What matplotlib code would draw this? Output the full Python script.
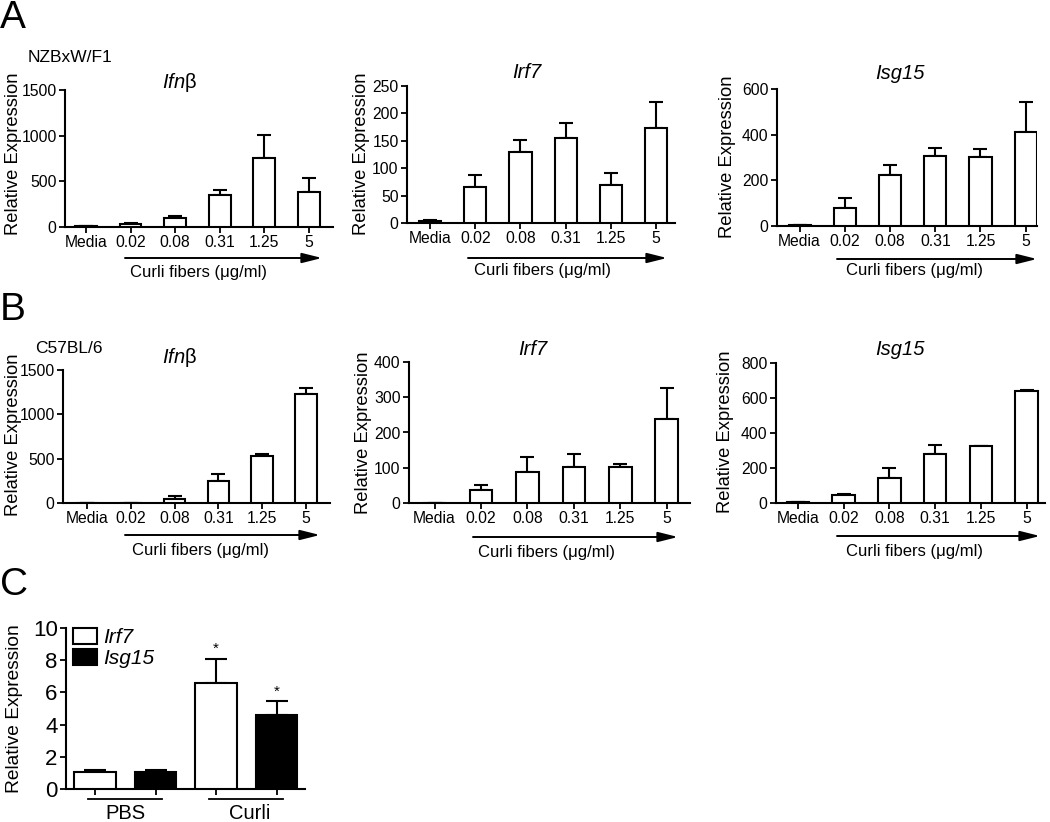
import matplotlib
matplotlib.use("Agg")
import matplotlib.pyplot as plt
from matplotlib.patches import FancyArrowPatch, Patch
import matplotlib.transforms as mtransforms

plt.rcParams["font.family"] = ["Liberation Sans", "DejaVu Sans"]
plt.rcParams["mathtext.fontset"] = "custom"
plt.rcParams["mathtext.rm"] = "Liberation Sans"
plt.rcParams["mathtext.it"] = "Liberation Sans:italic"

# ---------------- data ----------------
doses = ["Media", "0.02", "0.08", "0.31", "1.25", "5"]

a_ifnb = [10, 30, 100, 350, 755, 380]
a_ifnb_err = [5, 15, 25, 50, 255, 155]
a_irf7 = [3, 66, 130, 155, 69, 174]
a_irf7_err = [2, 21, 21, 28, 23, 46]
a_isg15 = [4, 79, 222, 308, 301, 412]
a_isg15_err = [2, 44, 47, 34, 36, 130]

b_ifnb = [0, 0, 45, 251, 532, 1234]
b_ifnb_err = [0, 0, 30, 79, 23, 64]
b_irf7 = [0, 36, 88, 103, 103, 238]
b_irf7_err = [0, 15, 42, 36, 7, 87]
b_isg15 = [4, 46, 143, 280, 324, 638]
b_isg15_err = [0, 7, 57, 53, 0, 10]

c_groups = ["PBS", "Curli"]
c_irf7 = [1.03, 6.6]
c_irf7_err = [0.17, 1.5]
c_isg15 = [1.03, 4.6]
c_isg15_err = [0.17, 0.85]

W, H = 1050, 822
fig = plt.figure(figsize=(W / 100, H / 100), dpi=100)


def axes_px(l, t, r, b):
    return fig.add_axes([l / W, 1 - b / H, (r - l) / W, (b - t) / H])


def ftext(x, y, s, **kw):
    return fig.text(x / W, 1 - y / H, s, **kw)


def style_axes(ax, tick_fs):
    for s in ["top", "right"]:
        ax.spines[s].set_visible(False)
    for s in ["left", "bottom"]:
        ax.spines[s].set_linewidth(1.5)
    ax.tick_params(direction="out", length=4, width=1.3, labelsize=tick_fs, pad=2)


LW = 1.5
IFNB = r"$\mathit{Ifn}\mathrm{\beta}$"
panels = [
    # values, errors, axes px, xlim, ylim, yticks, title, title pos, ylabel pos
    (a_ifnb, a_ifnb_err, (65, 90, 333, 227), (-0.47, 5.54), 1500, [0, 500, 1000, 1500],
     IFNB, (180, 88), (14, 154)),
    (a_irf7, a_irf7_err, (407, 86, 675, 223), (-0.51, 5.42), 250, [0, 50, 100, 150, 200, 250],
     "Irf7", (527, 78), (362, 154)),
    (a_isg15, a_isg15_err, (777, 89, 1037, 226), (-0.5, 5.25), 600, [0, 200, 400, 600],
     "Isg15", (900, 79), (727, 157)),
    (b_ifnb, b_ifnb_err, (63, 370, 330, 503), (-0.55, 5.55), 1500, [0, 500, 1000, 1500],
     IFNB, (180, 363), (14, 435)),
    (b_irf7, b_irf7_err, (409, 362, 690, 503), (-0.55, 5.5), 400, [0, 100, 200, 300, 400],
     "Irf7", (533, 355), (364, 433)),
    (b_isg15, b_isg15_err, (776, 363, 1045, 503), (-0.48, 5.4), 800, [0, 200, 400, 600, 800],
     "Isg15", (900, 355), (725, 432)),
]

for vals, errs, box, xl, ytop, yt, title, tpos, ypos in panels:
    ax = axes_px(*box)
    x = list(range(len(doses)))
    ax.bar(x, vals, width=0.49, color="white", edgecolor="black", linewidth=LW, zorder=3)
    ax.errorbar(x, vals, yerr=[[0] * len(errs), errs], fmt="none", ecolor="black",
                elinewidth=LW, capsize=4.7, capthick=LW, zorder=2)
    ax.set_xlim(*xl)
    ax.set_ylim(0, ytop)
    ax.set_yticks(yt)
    ax.set_xticks(x)
    ax.set_xticklabels(doses)
    style_axes(ax, 11.3)
    ftext(tpos[0], tpos[1], title, ha="center", va="baseline", fontsize=14.5,
          style="italic")
    ftext(ypos[0], ypos[1], "Relative Expression", rotation=90, ha="center", va="center",
          fontsize=13.2)

# arrows + labels
arrows = [((125, 258), (322, 258), (198, 272)),
          ((468, 258), (667, 258), (543, 270)),
          ((837, 259), (1037, 259), (915, 271)),
          ((125, 535), (320, 535), (200, 550)),
          ((473, 537), (678, 537), (547, 552)),
          ((837, 536), (1040, 536), (915, 551))]
for p0, p1, lp in arrows:
    arr = FancyArrowPatch((p0[0] / W, 1 - p0[1] / H), (p1[0] / W, 1 - p1[1] / H),
                          transform=fig.transFigure,
                          arrowstyle="-|>,head_length=1.2,head_width=0.3",
                          mutation_scale=10, lw=1.4, color="black", shrinkA=0, shrinkB=0)
    fig.add_artist(arr)
    ftext(lp[0], lp[1], "Curli fibers (\u03bcg/ml)", ha="center", va="center", fontsize=12)

# panel letters and strain labels
ftext(0, 28, "A", fontsize=28, ha="left", va="baseline")
ftext(0, 320, "B", fontsize=28, ha="left", va="baseline")
ftext(0, 595, "C", fontsize=28, ha="left", va="baseline")
ftext(28, 62, "NZBxW/F1", fontsize=12.5, ha="left", va="baseline")
ftext(35, 353, "C57BL/6", fontsize=12.5, ha="left", va="baseline")

# ---------------- panel C ----------------
axc = axes_px(66, 628, 305, 789)
gx = [0, 1]
off = 0.25
bw = 0.34
x1 = [g - off for g in gx]
x2 = [g + off for g in gx]
axc.bar(x1, c_irf7, width=bw, color="white", edgecolor="black", linewidth=LW, zorder=3,
        label="Irf7")
axc.bar(x2, c_isg15, width=bw, color="black", edgecolor="black", linewidth=LW, zorder=3,
        label="Isg15")
axc.errorbar(x1, c_irf7, yerr=[[0, 0], c_irf7_err], fmt="none", ecolor="black",
             elinewidth=LW, capsize=8, capthick=LW, zorder=2)
axc.errorbar(x2, c_isg15, yerr=[[0, 0], c_isg15_err], fmt="none", ecolor="black",
             elinewidth=LW, capsize=8, capthick=LW, zorder=2)
axc.set_xlim(-0.49, 1.485)
axc.set_ylim(0, 10)
axc.set_yticks([0, 2, 4, 6, 8, 10])
axc.set_xticks(x1 + x2)
axc.set_xticklabels([])
style_axes(axc, 16)
# asterisks
axc.text(x1[1], c_irf7[1] + c_irf7_err[1] + 0.15, "*", ha="center", va="bottom", fontsize=11)
axc.text(x2[1], c_isg15[1] + c_isg15_err[1] + 0.15, "*", ha="center", va="bottom", fontsize=11)
# group lines and labels
trans = mtransforms.blended_transform_factory(axc.transData, axc.transAxes)
for g, name in zip(gx, c_groups):
    axc.plot([g - 0.306, g + 0.306], [-0.062, -0.062], color="black", lw=1.3,
             transform=trans, clip_on=False)
ftext(125, 819, "PBS", ha="center", va="baseline", fontsize=14.5)
ftext(250, 819, "Curli", ha="center", va="baseline", fontsize=14.5)
ftext(15, 709, "Relative Expression", rotation=90, ha="center", va="center", fontsize=13.8)
handles = [Patch(facecolor="white", edgecolor="black", linewidth=LW),
           Patch(facecolor="black", edgecolor="black", linewidth=LW)]
axc.legend(handles, ["Irf7", "Isg15"], loc="upper left", bbox_to_anchor=(0.03, 1.0),
           frameon=False, prop={"style": "italic", "size": 15}, handlelength=1.15,
           handleheight=0.8, handletextpad=0.3, labelspacing=0.1, borderpad=0,
           borderaxespad=0)

fig.savefig("out.png", dpi=100)
